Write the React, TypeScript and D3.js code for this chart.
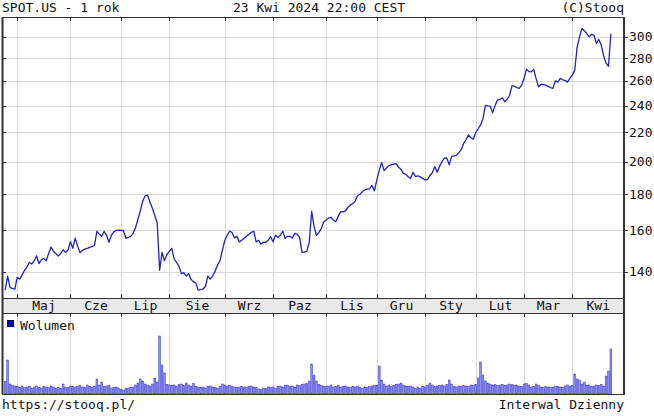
import * as React from "react"
import * as d3 from "d3"

// month labels and the index of the first session of each month
const monthLabels = ["Maj", "Cze", "Lip", "Sie", "Wrz", "Paz", "Lis", "Gru", "Sty", "Lut", "Mar", "Kwi"]
const monthStarts = [5, 27, 48, 68, 91, 111, 133, 154, 174, 195, 215, 235]

const priceTicks = [140, 160, 180, 200, 220, 240, 260, 280, 300]

// daily close, 24 Apr 2023 .. 23 Apr 2024
const closes = [
    131.8, 138.0, 133.0, 132.5, 132.3, 137.5, 136.6, 138.5, 140.5, 142.0,
    144.2, 143.5, 145.0, 147.3, 143.7, 145.5, 146.0, 145.0, 148.5, 151.6,
    149.5, 148.5, 147.3, 148.5, 150.3, 149.0, 150.0, 154.3, 151.0, 156.1,
    152.0, 148.8, 150.0, 150.6, 151.0, 151.5, 151.8, 152.4, 159.6, 158.0,
    157.0, 159.6, 157.5, 154.0, 157.5, 159.3, 160.0, 160.2, 160.0, 160.0,
    156.0, 156.5, 157.0, 158.5, 161.4, 166.0, 170.6, 176.0, 179.1, 179.6,
    175.3, 172.0, 168.0, 163.8, 140.6, 149.0, 145.0, 148.0, 149.5, 151.0,
    145.9, 144.2, 142.5, 139.1, 139.5, 137.9, 139.1, 136.6, 135.5, 134.8,
    131.8, 132.0, 132.3, 133.5, 138.0, 136.6, 138.0, 140.2, 143.0, 145.0,
    150.0, 154.9, 157.5, 159.6, 159.0, 156.1, 157.0, 154.2, 155.0, 156.0,
    157.0, 158.0, 159.0, 159.6, 154.2, 155.0, 153.1, 154.0, 154.0, 155.0,
    156.8, 154.2, 157.5, 156.5, 157.5, 159.6, 156.0, 157.0, 157.0, 156.1,
    158.5, 158.0, 156.5, 149.0, 149.2, 149.5, 154.0, 170.3, 162.0, 157.5,
    159.0, 161.0, 164.6, 165.5, 166.5, 167.0, 165.5, 164.6, 167.5, 170.1,
    170.0, 170.5, 172.5, 173.7, 174.5, 176.0, 179.1, 180.0, 181.5, 182.6,
    183.0, 183.2, 185.2, 182.0, 188.6, 194.3, 199.6, 194.3, 196.0, 197.5,
    198.0, 198.5, 198.8, 196.5, 195.2, 192.6, 192.0, 190.5, 189.5, 193.3,
    190.6, 191.0, 190.4, 189.5, 188.6, 188.8, 191.3, 193.0, 196.9, 193.3,
    197.0, 200.0, 202.3, 202.5, 198.0, 203.5, 203.8, 204.2, 206.0, 208.0,
    212.3, 215.0, 218.2, 216.1, 215.3, 220.0, 222.6, 225.5, 230.0, 240.2,
    239.8, 239.6, 234.5, 240.0, 244.3, 245.0, 246.0, 243.0, 245.0, 248.0,
    256.1, 255.5, 254.5, 253.8, 256.5, 262.0, 270.2, 268.0, 267.8, 270.0,
    262.0, 255.1, 257.0, 257.0, 256.5, 255.5, 254.5, 253.8, 260.2, 259.0,
    262.2, 261.0, 260.5, 259.0, 262.2, 265.0, 269.1, 290.0, 300.0, 308.4,
    306.0, 303.3, 300.0, 302.5, 301.7, 293.6, 297.5, 292.0, 282.0, 275.5,
    272.7, 303.3,
]

// daily volume, millions of shares
const volumes = [
    1.25, 3.4, 1.0, 0.85, 0.8, 0.75, 0.7, 0.8, 0.65, 0.7,
    0.75, 0.6, 0.7, 0.8, 0.65, 0.6, 0.75, 0.7, 0.65, 0.8,
    0.7, 0.6, 0.65, 0.55, 1.0, 0.7, 0.65, 0.75, 0.8, 0.7,
    0.75, 0.85, 0.7, 0.65, 0.9, 0.75, 0.7, 0.8, 1.5, 0.9,
    1.2, 0.75, 0.8, 0.85, 0.6, 0.65, 0.7, 0.6, 0.45, 0.4,
    0.55, 0.6, 0.65, 0.7, 0.9, 1.1, 1.5, 1.3, 1.0, 0.9,
    0.8, 1.0, 1.6, 1.2, 5.8, 2.9, 2.1, 0.95, 0.9, 0.85,
    0.9, 0.8, 0.95, 1.0, 0.85, 1.1, 0.9, 0.8, 1.05, 0.75,
    0.7, 0.65, 0.7, 0.6, 0.75, 0.8, 0.7, 0.65, 0.6, 0.75,
    1.0, 0.9, 0.8, 0.85, 0.8, 0.7, 0.65, 0.7, 0.75, 0.7,
    0.65, 0.75, 0.8, 0.7, 0.65, 0.5, 0.45, 0.6, 0.55, 0.7,
    0.65, 0.7, 0.6, 0.75, 0.8, 0.7, 0.85, 0.9, 0.75, 0.8,
    0.7, 0.9, 0.85, 0.95, 1.0, 1.05, 1.3, 3.0, 1.9, 1.3,
    0.95, 0.85, 0.8, 0.75, 0.8, 0.9, 0.7, 0.75, 0.85, 0.7,
    0.75, 0.8, 0.7, 0.65, 0.75, 0.7, 0.8, 0.65, 0.6, 0.7,
    0.65, 0.75, 0.8, 0.85, 0.9, 2.8, 1.4, 1.0, 0.8, 0.9,
    0.75, 0.85, 0.95, 1.0, 1.1, 0.9, 0.8, 0.75, 0.8, 0.7,
    0.55, 0.7, 0.6, 0.75, 0.7, 0.85, 1.1, 0.9, 0.75, 0.8,
    0.85, 0.9, 0.8, 0.95, 1.4, 1.0, 0.75, 0.7, 0.8, 0.75,
    0.85, 0.8, 0.75, 0.9, 0.85, 0.95, 1.6, 3.2, 1.9, 1.3,
    1.1, 1.0, 0.9, 0.95, 0.85, 0.9, 0.95, 0.85, 0.9, 1.0,
    0.95, 0.85, 0.9, 0.8, 0.75, 1.0, 1.05, 0.9, 0.7, 0.75,
    1.0, 0.85, 0.7, 0.65, 0.75, 0.7, 0.65, 0.7, 0.8, 0.75,
    0.7, 0.65, 0.8, 0.9, 0.8, 0.85, 2.0, 1.5, 1.4, 1.0,
    1.2, 0.85, 0.9, 0.75, 0.8, 0.9, 0.85, 0.95, 0.8, 1.8,
    2.3, 4.5,
]

const W = 654
const H = 416
const FONT = "'DejaVu Sans Mono', 'Liberation Mono', monospace"

export default function App() {
    const svgRef = React.useRef<SVGSVGElement>(null)

    React.useEffect(() => {
        if (!svgRef.current) return
        const svg = d3.select(svgRef.current)
        svg.selectAll("*").remove()

        const left = 2, right = 624
        const top = 17, priceBottom = 298, bandBottom = 313, volBottom = 394

        const x = d3.scaleLinear().domain([0, closes.length - 1]).range([5.2, 610.9])
        const y = d3.scaleLog().domain([128.5, 320]).range([priceBottom, top])
        const yv = d3.scaleLinear().domain([0, 8.1]).range([volBottom, bandBottom])
        const gx = (i: number) => Math.round(x(i)) + 0.5

        svg.append("rect").attr("width", W).attr("height", H).attr("fill", "#fff")

        // header
        const hdr = svg.append("g").style("font-family", FONT).style("font-size", "13px").attr("fill", "#111")
        hdr.append("text").attr("x", 2).attr("y", 12).text("SPOT.US - 1 rok")
        hdr.append("text").attr("x", 319).attr("y", 12).attr("text-anchor", "middle").text("23 Kwi 2024 22:00 CEST")
        hdr.append("text").attr("x", right).attr("y", 12).attr("text-anchor", "end").text("(C)Stooq")

        // grid
        const grid = svg.append("g").attr("stroke", "#d9d9d9").attr("stroke-width", 1)
        grid.selectAll("line.h").data(priceTicks).join("line")
            .attr("x1", left).attr("x2", right)
            .attr("y1", d => Math.round(y(d)) + 0.5).attr("y2", d => Math.round(y(d)) + 0.5)
        grid.selectAll("line.v").data(monthStarts).join("line")
            .attr("x1", d => gx(d)).attr("x2", d => gx(d))
            .attr("y1", top).attr("y2", priceBottom)
        grid.selectAll("line.vv").data(monthStarts).join("line")
            .attr("x1", d => gx(d)).attr("x2", d => gx(d))
            .attr("y1", bandBottom).attr("y2", volBottom)

        // month band
        svg.append("rect")
            .attr("x", left).attr("y", priceBottom)
            .attr("width", right - left).attr("height", bandBottom - priceBottom)
            .attr("fill", "#e9e9e9")
        svg.append("g").style("font-family", FONT).style("font-size", "13px").attr("fill", "#111")
            .selectAll("text").data(monthLabels).join("text")
            .attr("x", (d, i) => {
                const a = gx(monthStarts[i])
                const b = i + 1 < monthStarts.length ? gx(monthStarts[i + 1]) : right
                return (a + b) / 2
            })
            .attr("y", 310)
            .attr("text-anchor", "middle")
            .text(d => d)

        // volume bars
        svg.append("g").selectAll("rect").data(volumes).join("rect")
            .attr("x", (d, i) => x(i) - 0.9)
            .attr("width", 1.8)
            .attr("y", d => yv(d))
            .attr("height", d => volBottom - yv(d))
            .attr("fill", "#8c8cf0")
            .attr("stroke", "#3a3acc")
            .attr("stroke-width", 0.5)

        // price line
        const line = d3.line<number>().x((d, i) => x(i)).y(d => y(d))
        svg.append("path")
            .datum(closes)
            .attr("d", line)
            .attr("fill", "none")
            .attr("stroke", "#2323b4")
            .attr("stroke-width", 1.3)
            .attr("stroke-linejoin", "round")

        // frames
        const frame = svg.append("g").attr("fill", "none").attr("stroke", "#333").attr("stroke-width", 1)
        frame.append("rect").attr("x", left + 0.5).attr("y", top + 0.5)
            .attr("width", right - left - 1).attr("height", priceBottom - top)
        frame.append("line").attr("x1", left).attr("x2", right).attr("y1", bandBottom + 0.5).attr("y2", bandBottom + 0.5)
        frame.append("rect").attr("x", left + 0.5).attr("y", bandBottom + 0.5)
            .attr("width", right - left - 1).attr("height", volBottom - bandBottom)
        frame.append("line").attr("x1", left + 0.5).attr("x2", left + 0.5).attr("y1", top).attr("y2", volBottom)
            .attr("stroke-width", 2)
        frame.append("line").attr("x1", right).attr("x2", right).attr("y1", top).attr("y2", volBottom + 1)
            .attr("stroke-width", 2)

        // ticks
        const ticks = svg.append("g").attr("stroke", "#333").attr("stroke-width", 1)
        priceTicks.forEach(t => {
            const yy = Math.round(y(t)) + 0.5
            ticks.append("line").attr("x1", right).attr("x2", right + 4).attr("y1", yy).attr("y2", yy)
            ticks.append("line").attr("x1", left).attr("x2", left + 4).attr("y1", yy).attr("y2", yy)
        })
        monthStarts.forEach(m => {
            const xx = gx(m)
            ticks.append("line").attr("x1", xx).attr("x2", xx).attr("y1", top).attr("y2", top + 4)
            ticks.append("line").attr("x1", xx).attr("x2", xx).attr("y1", priceBottom - 4).attr("y2", priceBottom)
            ticks.append("line").attr("x1", xx).attr("x2", xx).attr("y1", bandBottom).attr("y2", bandBottom + 4)
        })

        // right price labels
        svg.append("g").style("font-family", FONT).style("font-size", "13px").attr("fill", "#111")
            .selectAll("text").data(priceTicks).join("text")
            .attr("x", 629)
            .attr("y", d => y(d) + 4.5)
            .text(d => d)

        // volume legend
        svg.append("rect").attr("x", 7.5).attr("y", 320.5).attr("width", 6).attr("height", 6)
            .attr("fill", "#0000cc").attr("stroke", "#000066")
        svg.append("text").attr("x", 20).attr("y", 330)
            .style("font-family", FONT).style("font-size", "13px").attr("fill", "#111")
            .text("Wolumen")

        // footer
        const ftr = svg.append("g").style("font-family", FONT).style("font-size", "13px").attr("fill", "#111")
        ftr.append("text").attr("x", 2).attr("y", 409).text("https://stooq.pl/")
        ftr.append("text").attr("x", right).attr("y", 409).attr("text-anchor", "end").text("Interwal Dzienny")
    }, [])

    return (
        <svg
            ref={svgRef}
            width={W}
            height={H}
            style={{ position: "absolute", left: 0, top: 0, display: "block" }}
        />
    )
}
